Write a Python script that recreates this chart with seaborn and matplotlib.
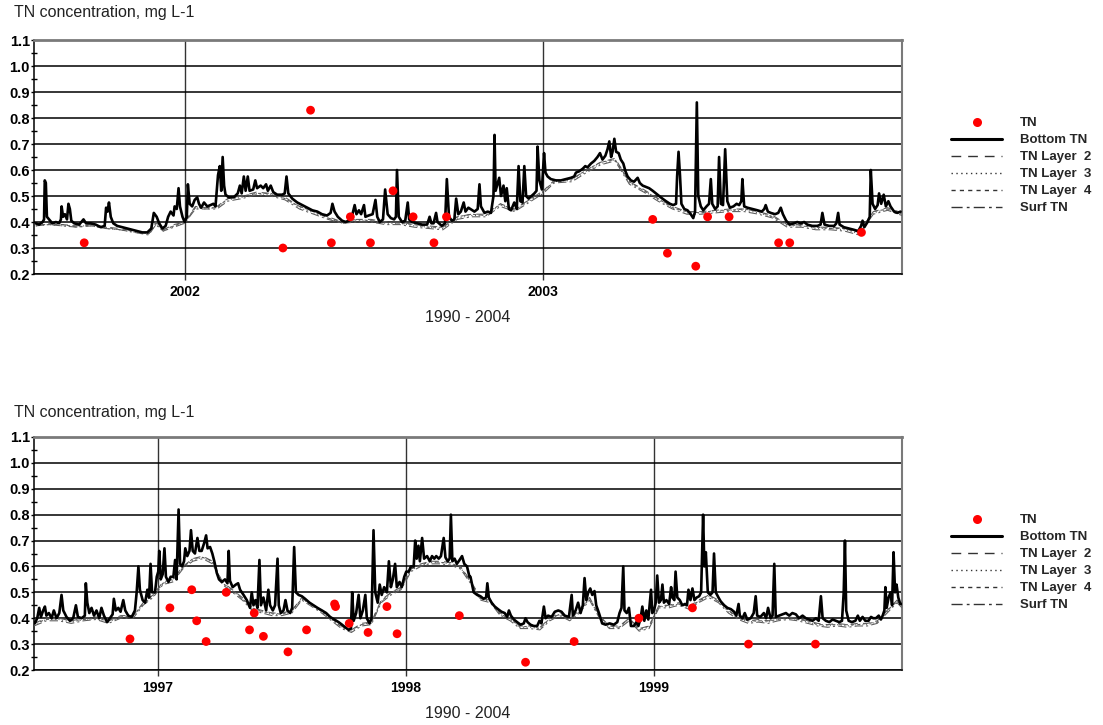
import numpy as np
import pandas as pd
import matplotlib
matplotlib.use("Agg")
import matplotlib.pyplot as plt
from matplotlib.lines import Line2D
from matplotlib.ticker import MultipleLocator, FormatStrFormatter
import seaborn as sns

# ------------------------------------------------------------------
# Panel A: Aug 2001 - Dec 2003 (decimal years, TN in mg/L)
# ------------------------------------------------------------------
a_obs_year = [2001.720, 2002.274, 2002.351, 2002.409, 2002.462, 2002.518, 2002.581, 2002.637, 2002.695,
              2002.730, 2003.305, 2003.346, 2003.425, 2003.458, 2003.518, 2003.656, 2003.687, 2003.887]
a_obs_tn = [0.32, 0.30, 0.83, 0.32, 0.42, 0.32, 0.52, 0.42, 0.32,
            0.42, 0.41, 0.28, 0.23, 0.42, 0.42, 0.32, 0.32, 0.36]

a_bottom_year = [
    2001.585, 2001.594, 2001.604, 2001.608, 2001.610, 2001.613, 2001.616, 2001.622, 2001.631, 2001.641,
    2001.650, 2001.655, 2001.657, 2001.661, 2001.666, 2001.672, 2001.676, 2001.680, 2001.684, 2001.692,
    2001.706, 2001.718, 2001.725, 2001.738, 2001.752, 2001.766, 2001.777, 2001.781, 2001.785, 2001.789,
    2001.794, 2001.801, 2001.812, 2001.826, 2001.840, 2001.854, 2001.868, 2001.882, 2001.896, 2001.907,
    2001.914, 2001.922, 2001.929, 2001.938, 2001.947, 2001.954, 2001.961, 2001.969, 2001.972, 2001.978,
    2001.983, 2001.987, 2001.994, 2002.000, 2002.006, 2002.009, 2002.014, 2002.021, 2002.028, 2002.035,
    2002.040, 2002.046, 2002.054, 2002.063, 2002.072, 2002.080, 2002.086, 2002.093, 2002.098, 2002.102,
    2002.106, 2002.110, 2002.114, 2002.123, 2002.137, 2002.148, 2002.154, 2002.159, 2002.165, 2002.170,
    2002.176, 2002.181, 2002.191, 2002.197, 2002.202, 2002.212, 2002.219, 2002.227, 2002.232, 2002.240,
    2002.247, 2002.258, 2002.272, 2002.279, 2002.284, 2002.289, 2002.300, 2002.314, 2002.328, 2002.342,
    2002.356, 2002.370, 2002.383, 2002.397, 2002.407, 2002.412, 2002.418, 2002.427, 2002.439, 2002.449,
    2002.458, 2002.467, 2002.474, 2002.479, 2002.486, 2002.492, 2002.500, 2002.504, 2002.513, 2002.524,
    2002.532, 2002.537, 2002.544, 2002.553, 2002.559, 2002.566, 2002.575, 2002.584, 2002.589, 2002.592,
    2002.597, 2002.606, 2002.615, 2002.622, 2002.626, 2002.634, 2002.648, 2002.662, 2002.676, 2002.683,
    2002.688, 2002.694, 2002.701, 2002.705, 2002.717, 2002.726, 2002.731, 2002.737, 2002.745, 2002.752,
    2002.757, 2002.763, 2002.770, 2002.778, 2002.783, 2002.791, 2002.808, 2002.817, 2002.822, 2002.826,
    2002.836, 2002.845, 2002.854, 2002.861, 2002.864, 2002.867, 2002.873, 2002.877, 2002.882, 2002.889,
    2002.894, 2002.898, 2002.904, 2002.910, 2002.919, 2002.926, 2002.931, 2002.936, 2002.942, 2002.947,
    2002.952, 2002.959, 2002.967, 2002.975, 2002.981, 2002.984, 2002.989, 2002.996, 2003.002, 2003.006,
    2003.012, 2003.021, 2003.035, 2003.049, 2003.063, 2003.077, 2003.086, 2003.091, 2003.100, 2003.110,
    2003.117, 2003.123, 2003.133, 2003.142, 2003.151, 2003.158, 2003.165, 2003.173, 2003.179, 2003.184,
    2003.189, 2003.193, 2003.198, 2003.203, 2003.210, 2003.216, 2003.223, 2003.229, 2003.235, 2003.244,
    2003.253, 2003.263, 2003.269, 2003.277, 2003.286, 2003.295, 2003.305, 2003.314, 2003.323, 2003.332,
    2003.342, 2003.353, 2003.362, 2003.370, 2003.373, 2003.377, 2003.381, 2003.385, 2003.393, 2003.402,
    2003.411, 2003.418, 2003.423, 2003.428, 2003.432, 2003.439, 2003.446, 2003.455, 2003.462, 2003.467,
    2003.471, 2003.479, 2003.486, 2003.490, 2003.495, 2003.501, 2003.507, 2003.513, 2003.520, 2003.530,
    2003.539, 2003.546, 2003.552, 2003.555, 2003.560, 2003.569, 2003.583, 2003.597, 2003.609, 2003.616,
    2003.620, 2003.626, 2003.634, 2003.646, 2003.655, 2003.662, 2003.668, 2003.677, 2003.687, 2003.699,
    2003.708, 2003.718, 2003.727, 2003.736, 2003.750, 2003.764, 2003.773, 2003.778, 2003.784, 2003.797,
    2003.811, 2003.817, 2003.822, 2003.826, 2003.838, 2003.852, 2003.866, 2003.878, 2003.886, 2003.890,
    2003.895, 2003.904, 2003.910, 2003.913, 2003.918, 2003.925, 2003.932, 2003.936, 2003.942, 2003.949,
    2003.955, 2003.962, 2003.968, 2003.978, 2003.987, 2003.996]
a_bottom_tn = [
    0.395, 0.39, 0.40, 0.41, 0.56, 0.55, 0.42, 0.41, 0.395, 0.40,
    0.395, 0.41, 0.46, 0.42, 0.43, 0.41, 0.47, 0.45, 0.405, 0.395,
    0.39, 0.41, 0.395, 0.395, 0.39, 0.38, 0.385, 0.455, 0.44, 0.475,
    0.42, 0.395, 0.385, 0.38, 0.375, 0.37, 0.365, 0.36, 0.36, 0.375,
    0.435, 0.42, 0.395, 0.375, 0.385, 0.42, 0.44, 0.425, 0.46, 0.45,
    0.53, 0.46, 0.42, 0.40, 0.42, 0.545, 0.47, 0.46, 0.485, 0.495,
    0.47, 0.455, 0.475, 0.46, 0.465, 0.47, 0.46, 0.58, 0.615, 0.52,
    0.65, 0.54, 0.505, 0.495, 0.495, 0.51, 0.54, 0.51, 0.575, 0.52,
    0.575, 0.52, 0.525, 0.56, 0.53, 0.54, 0.53, 0.545, 0.52, 0.54,
    0.515, 0.505, 0.505, 0.51, 0.575, 0.51, 0.49, 0.475, 0.465, 0.455,
    0.445, 0.44, 0.43, 0.425, 0.435, 0.47, 0.44, 0.42, 0.405, 0.40,
    0.405, 0.425, 0.465, 0.43, 0.445, 0.43, 0.465, 0.42, 0.425, 0.43,
    0.485, 0.42, 0.40, 0.41, 0.525, 0.43, 0.415, 0.41, 0.42, 0.60,
    0.42, 0.40, 0.405, 0.475, 0.41, 0.40, 0.395, 0.39, 0.39, 0.42,
    0.395, 0.395, 0.435, 0.40, 0.385, 0.395, 0.565, 0.42, 0.405, 0.41,
    0.49, 0.43, 0.44, 0.475, 0.44, 0.455, 0.44, 0.45, 0.545, 0.46,
    0.435, 0.44, 0.435, 0.50, 0.735, 0.52, 0.55, 0.57, 0.50, 0.54,
    0.48, 0.53, 0.45, 0.445, 0.475, 0.45, 0.615, 0.48, 0.475, 0.615,
    0.50, 0.49, 0.50, 0.51, 0.52, 0.69, 0.56, 0.525, 0.665, 0.59,
    0.575, 0.565, 0.56, 0.56, 0.565, 0.57, 0.575, 0.59, 0.595, 0.605,
    0.615, 0.61, 0.625, 0.635, 0.65, 0.665, 0.64, 0.655, 0.68, 0.71,
    0.65, 0.67, 0.72, 0.67, 0.665, 0.64, 0.625, 0.595, 0.575, 0.56,
    0.555, 0.57, 0.55, 0.54, 0.535, 0.53, 0.52, 0.51, 0.50, 0.49,
    0.48, 0.47, 0.465, 0.47, 0.575, 0.67, 0.58, 0.47, 0.45, 0.445,
    0.43, 0.415, 0.44, 0.86, 0.50, 0.46, 0.445, 0.46, 0.47, 0.565,
    0.47, 0.45, 0.46, 0.65, 0.47, 0.465, 0.68, 0.48, 0.455, 0.46,
    0.47, 0.465, 0.48, 0.565, 0.46, 0.455, 0.45, 0.445, 0.44, 0.45,
    0.465, 0.44, 0.435, 0.43, 0.435, 0.455, 0.43, 0.405, 0.39, 0.395,
    0.40, 0.395, 0.40, 0.39, 0.385, 0.385, 0.39, 0.435, 0.39, 0.385,
    0.385, 0.395, 0.435, 0.39, 0.38, 0.375, 0.37, 0.365, 0.385, 0.405,
    0.38, 0.40, 0.42, 0.60, 0.47, 0.45, 0.465, 0.51, 0.47, 0.505,
    0.46, 0.48, 0.46, 0.44, 0.435, 0.44]

a_layer_year = [
    2001.585, 2001.62, 2001.66, 2001.70, 2001.74, 2001.78, 2001.82, 2001.86, 2001.90, 2001.92, 2001.94, 2001.97,
    2002.00, 2002.03, 2002.06, 2002.09, 2002.12, 2002.16, 2002.20, 2002.24, 2002.28, 2002.32, 2002.36,
    2002.40, 2002.44, 2002.48, 2002.52, 2002.56, 2002.60, 2002.64, 2002.68, 2002.72, 2002.76, 2002.80,
    2002.84, 2002.88, 2002.92, 2002.96,
    2003.00, 2003.03, 2003.08, 2003.12, 2003.16, 2003.20, 2003.24, 2003.28, 2003.32, 2003.36, 2003.40,
    2003.44, 2003.48, 2003.52, 2003.56, 2003.60, 2003.64, 2003.68, 2003.72, 2003.76, 2003.80, 2003.84,
    2003.88, 2003.92, 2003.96, 2004.00]
a_layer2_tn = [
    0.39, 0.395, 0.39, 0.385, 0.39, 0.38, 0.375, 0.365, 0.355, 0.40, 0.37, 0.39,
    0.40, 0.46, 0.455, 0.46, 0.49, 0.50, 0.515, 0.51, 0.495, 0.46, 0.44,
    0.42, 0.40, 0.41, 0.41, 0.40, 0.40, 0.39, 0.385, 0.38, 0.42, 0.43,
    0.43, 0.47, 0.45, 0.485,
    0.52, 0.56, 0.565, 0.60, 0.63, 0.645, 0.555, 0.525, 0.49, 0.46, 0.44,
    0.44, 0.445, 0.45, 0.45, 0.44, 0.425, 0.39, 0.39, 0.38, 0.38, 0.375,
    0.36, 0.44, 0.455, 0.435]
a_layer3_tn = [
    0.385, 0.39, 0.385, 0.385, 0.385, 0.375, 0.37, 0.36, 0.355, 0.39, 0.365, 0.385,
    0.395, 0.455, 0.45, 0.455, 0.485, 0.495, 0.51, 0.505, 0.49, 0.455, 0.435,
    0.415, 0.395, 0.405, 0.405, 0.395, 0.395, 0.385, 0.38, 0.375, 0.415, 0.425,
    0.425, 0.465, 0.445, 0.48,
    0.515, 0.555, 0.56, 0.595, 0.625, 0.64, 0.55, 0.52, 0.485, 0.455, 0.435,
    0.435, 0.44, 0.445, 0.445, 0.435, 0.42, 0.385, 0.385, 0.375, 0.375, 0.37,
    0.355, 0.435, 0.45, 0.43]
a_layer4_tn = [
    0.39, 0.39, 0.39, 0.38, 0.39, 0.38, 0.37, 0.365, 0.355, 0.395, 0.37, 0.385,
    0.40, 0.455, 0.455, 0.455, 0.49, 0.50, 0.51, 0.51, 0.49, 0.46, 0.44,
    0.415, 0.40, 0.41, 0.405, 0.40, 0.395, 0.39, 0.38, 0.38, 0.42, 0.43,
    0.425, 0.47, 0.445, 0.485,
    0.52, 0.555, 0.565, 0.60, 0.63, 0.64, 0.555, 0.52, 0.49, 0.455, 0.44,
    0.435, 0.445, 0.445, 0.45, 0.44, 0.42, 0.39, 0.385, 0.38, 0.375, 0.375,
    0.36, 0.44, 0.45, 0.435]
a_surf_tn = [
    0.385, 0.39, 0.385, 0.38, 0.385, 0.375, 0.37, 0.36, 0.35, 0.39, 0.365, 0.38,
    0.395, 0.45, 0.45, 0.45, 0.48, 0.49, 0.505, 0.50, 0.485, 0.45, 0.43,
    0.41, 0.395, 0.40, 0.40, 0.39, 0.39, 0.38, 0.375, 0.37, 0.41, 0.42,
    0.42, 0.46, 0.44, 0.475,
    0.51, 0.55, 0.555, 0.59, 0.62, 0.635, 0.545, 0.515, 0.48, 0.45, 0.43,
    0.43, 0.435, 0.44, 0.44, 0.43, 0.415, 0.38, 0.38, 0.37, 0.37, 0.365,
    0.35, 0.43, 0.445, 0.425]

# ------------------------------------------------------------------
# Panel B: Jul 1996 - Dec 1999
# ------------------------------------------------------------------
b_obs_year = [1996.887, 1997.048, 1997.136, 1997.156, 1997.194, 1997.275, 1997.369, 1997.388,
              1997.425, 1997.524, 1997.599, 1997.712, 1997.716, 1997.771, 1997.847, 1997.923,
              1997.964, 1998.215, 1998.482, 1998.678, 1998.939, 1999.155, 1999.381, 1999.651]
b_obs_tn = [0.32, 0.44, 0.51, 0.39, 0.31, 0.50, 0.355, 0.42,
            0.33, 0.27, 0.355, 0.455, 0.445, 0.38, 0.345, 0.445,
            0.34, 0.41, 0.23, 0.31, 0.40, 0.44, 0.30, 0.30]

b_bottom_year = [
    1996.500, 1996.503, 1996.513, 1996.521, 1996.528, 1996.537, 1996.544, 1996.550, 1996.560, 1996.571,
    1996.580, 1996.591, 1996.602, 1996.611, 1996.618, 1996.631, 1996.645, 1996.658, 1996.669, 1996.677,
    1996.692, 1996.705, 1996.709, 1996.715, 1996.723, 1996.732, 1996.742, 1996.752, 1996.763, 1996.772,
    1996.782, 1996.795, 1996.806, 1996.817, 1996.822, 1996.830, 1996.840, 1996.849, 1996.860, 1996.868,
    1996.880, 1996.894, 1996.907, 1996.914, 1996.921, 1996.927, 1996.938, 1996.948, 1996.957, 1996.964,
    1996.970, 1996.976, 1996.988, 1996.995, 1997.001, 1997.005, 1997.011, 1997.019, 1997.026, 1997.032,
    1997.042, 1997.051, 1997.062, 1997.069, 1997.075, 1997.083, 1997.089, 1997.097, 1997.105, 1997.110,
    1997.118, 1997.127, 1997.133, 1997.140, 1997.149, 1997.159, 1997.167, 1997.176, 1997.186, 1997.194,
    1997.200, 1997.210, 1997.219, 1997.227, 1997.237, 1997.246, 1997.257, 1997.270, 1997.280, 1997.285,
    1997.290, 1997.301, 1997.314, 1997.323, 1997.331, 1997.345, 1997.358, 1997.371, 1997.378, 1997.385,
    1997.393, 1997.401, 1997.409, 1997.415, 1997.425, 1997.436, 1997.445, 1997.452, 1997.463, 1997.472,
    1997.482, 1997.487, 1997.495, 1997.506, 1997.514, 1997.522, 1997.533, 1997.541, 1997.549, 1997.556,
    1997.567, 1997.580, 1997.593, 1997.611, 1997.627, 1997.643, 1997.661, 1997.678, 1997.694, 1997.711,
    1997.728, 1997.742, 1997.755, 1997.769, 1997.778, 1997.783, 1997.789, 1997.799, 1997.809, 1997.816,
    1997.826, 1997.836, 1997.842, 1997.853, 1997.861, 1997.869, 1997.876, 1997.886, 1997.894, 1997.902,
    1997.912, 1997.923, 1997.931, 1997.939, 1997.947, 1997.956, 1997.963, 1997.974, 1997.983, 1997.993,
    1998.001, 1998.011, 1998.020, 1998.031, 1998.037, 1998.043, 1998.050, 1998.056, 1998.065, 1998.073,
    1998.085, 1998.096, 1998.105, 1998.114, 1998.122, 1998.132, 1998.141, 1998.152, 1998.159, 1998.168,
    1998.176, 1998.181, 1998.187, 1998.196, 1998.205, 1998.216, 1998.226, 1998.235, 1998.246, 1998.256,
    1998.260, 1998.273, 1998.287, 1998.300, 1998.313, 1998.323, 1998.328, 1998.334, 1998.345, 1998.358,
    1998.371, 1998.385, 1998.398, 1998.408, 1998.415, 1998.423, 1998.435, 1998.448, 1998.462, 1998.475,
    1998.482, 1998.490, 1998.502, 1998.515, 1998.529, 1998.538, 1998.546, 1998.556, 1998.563, 1998.573,
    1998.587, 1998.600, 1998.614, 1998.627, 1998.640, 1998.657, 1998.668, 1998.673, 1998.684, 1998.694,
    1998.704, 1998.713, 1998.720, 1998.727, 1998.735, 1998.743, 1998.751, 1998.760, 1998.767, 1998.778,
    1998.791, 1998.805, 1998.821, 1998.838, 1998.852, 1998.861, 1998.869, 1998.876, 1998.881, 1998.890,
    1998.899, 1998.907, 1998.919, 1998.929, 1998.937, 1998.946, 1998.953, 1998.961, 1998.969, 1998.977,
    1998.983, 1998.988, 1998.993, 1999.000, 1999.007, 1999.013, 1999.020, 1999.028, 1999.034, 1999.040,
    1999.050, 1999.061, 1999.069, 1999.074, 1999.082, 1999.087, 1999.094, 1999.104, 1999.114, 1999.125,
    1999.133, 1999.139, 1999.147, 1999.155, 1999.163, 1999.172, 1999.182, 1999.190, 1999.198, 1999.203,
    1999.209, 1999.217, 1999.227, 1999.236, 1999.242, 1999.249, 1999.260, 1999.269, 1999.283, 1999.296,
    1999.310, 1999.323, 1999.332, 1999.341, 1999.346, 1999.357, 1999.366, 1999.376, 1999.390, 1999.402,
    1999.410, 1999.416, 1999.429, 1999.443, 1999.452, 1999.460, 1999.470, 1999.478, 1999.485, 1999.491,
    1999.504, 1999.518, 1999.532, 1999.545, 1999.558, 1999.572, 1999.585, 1999.599, 1999.612, 1999.626,
    1999.639, 1999.653, 1999.664, 1999.673, 1999.680, 1999.693, 1999.707, 1999.720, 1999.734, 1999.747,
    1999.758, 1999.765, 1999.770, 1999.775, 1999.785, 1999.798, 1999.812, 1999.822, 1999.830, 1999.841,
    1999.852, 1999.865, 1999.875, 1999.884, 1999.895, 1999.906, 1999.915, 1999.922, 1999.929, 1999.933,
    1999.938, 1999.946, 1999.954, 1999.960, 1999.966, 1999.972, 1999.978, 1999.985, 1999.993, 2000.000]
b_bottom_tn = [
    0.385, 0.38, 0.40, 0.44, 0.405, 0.43, 0.445, 0.41, 0.42, 0.40,
    0.43, 0.40, 0.42, 0.49, 0.43, 0.405, 0.39, 0.40, 0.45, 0.405,
    0.40, 0.41, 0.535, 0.46, 0.42, 0.44, 0.41, 0.43, 0.40, 0.44,
    0.41, 0.385, 0.40, 0.415, 0.475, 0.43, 0.44, 0.425, 0.47, 0.43,
    0.41, 0.405, 0.43, 0.50, 0.60, 0.51, 0.47, 0.46, 0.51, 0.48,
    0.61, 0.50, 0.50, 0.56, 0.58, 0.66, 0.55, 0.57, 0.67, 0.56,
    0.54, 0.56, 0.56, 0.625, 0.55, 0.82, 0.61, 0.60, 0.62, 0.67,
    0.64, 0.66, 0.74, 0.66, 0.65, 0.71, 0.66, 0.66, 0.69, 0.72,
    0.67, 0.675, 0.65, 0.62, 0.575, 0.55, 0.54, 0.55, 0.535, 0.66,
    0.545, 0.52, 0.53, 0.535, 0.51, 0.49, 0.47, 0.44, 0.50, 0.45,
    0.47, 0.44, 0.625, 0.45, 0.48, 0.43, 0.51, 0.45, 0.43, 0.45,
    0.63, 0.45, 0.42, 0.43, 0.47, 0.43, 0.42, 0.44, 0.675, 0.50,
    0.49, 0.485, 0.475, 0.46, 0.45, 0.44, 0.43, 0.42, 0.405, 0.395,
    0.385, 0.375, 0.365, 0.355, 0.36, 0.50, 0.39, 0.42, 0.49, 0.40,
    0.43, 0.49, 0.40, 0.38, 0.40, 0.74, 0.50, 0.46, 0.53, 0.49,
    0.52, 0.50, 0.62, 0.52, 0.55, 0.61, 0.52, 0.54, 0.52, 0.56,
    0.58, 0.58, 0.60, 0.60, 0.70, 0.63, 0.68, 0.62, 0.71, 0.63,
    0.64, 0.62, 0.64, 0.63, 0.64, 0.63, 0.64, 0.71, 0.635, 0.62,
    0.63, 0.80, 0.62, 0.63, 0.61, 0.625, 0.64, 0.61, 0.60, 0.56,
    0.56, 0.50, 0.49, 0.485, 0.475, 0.48, 0.535, 0.48, 0.46, 0.445,
    0.435, 0.425, 0.42, 0.405, 0.43, 0.41, 0.395, 0.385, 0.375, 0.38,
    0.40, 0.385, 0.375, 0.37, 0.37, 0.39, 0.38, 0.445, 0.40, 0.41,
    0.405, 0.425, 0.43, 0.425, 0.41, 0.405, 0.49, 0.41, 0.43, 0.46,
    0.42, 0.45, 0.555, 0.47, 0.50, 0.515, 0.49, 0.505, 0.45, 0.42,
    0.38, 0.375, 0.38, 0.375, 0.385, 0.42, 0.44, 0.60, 0.43, 0.42,
    0.44, 0.37, 0.37, 0.385, 0.37, 0.40, 0.445, 0.39, 0.43, 0.395,
    0.46, 0.51, 0.42, 0.43, 0.46, 0.565, 0.46, 0.47, 0.53, 0.46,
    0.47, 0.455, 0.52, 0.48, 0.47, 0.58, 0.48, 0.47, 0.45, 0.455,
    0.45, 0.51, 0.47, 0.515, 0.47, 0.48, 0.485, 0.50, 0.80, 0.60,
    0.655, 0.50, 0.49, 0.50, 0.65, 0.50, 0.48, 0.465, 0.45, 0.44,
    0.435, 0.425, 0.41, 0.455, 0.41, 0.40, 0.42, 0.395, 0.40, 0.42,
    0.485, 0.41, 0.405, 0.42, 0.40, 0.44, 0.40, 0.41, 0.61, 0.405,
    0.41, 0.415, 0.42, 0.41, 0.42, 0.415, 0.40, 0.41, 0.40, 0.395,
    0.39, 0.40, 0.39, 0.485, 0.40, 0.39, 0.385, 0.395, 0.39, 0.385,
    0.39, 0.50, 0.70, 0.43, 0.39, 0.385, 0.39, 0.41, 0.39, 0.405,
    0.39, 0.39, 0.405, 0.40, 0.40, 0.41, 0.395, 0.41, 0.43, 0.52,
    0.44, 0.48, 0.50, 0.45, 0.655, 0.50, 0.53, 0.48, 0.455, 0.455]

b_layer_year = [
    1996.50, 1996.55, 1996.60, 1996.65, 1996.70, 1996.75, 1996.80, 1996.85, 1996.90, 1996.94, 1996.98,
    1997.02, 1997.06, 1997.10, 1997.14, 1997.18, 1997.22, 1997.26, 1997.30, 1997.34, 1997.38, 1997.42,
    1997.46, 1997.50, 1997.54, 1997.58, 1997.62, 1997.66, 1997.70, 1997.74, 1997.78, 1997.82, 1997.86,
    1997.90, 1997.94, 1997.98,
    1998.02, 1998.06, 1998.10, 1998.14, 1998.18, 1998.22, 1998.26, 1998.30, 1998.34, 1998.38, 1998.42,
    1998.46, 1998.50, 1998.54, 1998.58, 1998.62, 1998.66, 1998.70, 1998.74, 1998.78, 1998.82, 1998.86,
    1998.90, 1998.94, 1998.98,
    1999.02, 1999.06, 1999.10, 1999.14, 1999.18, 1999.22, 1999.26, 1999.30, 1999.34, 1999.38, 1999.42,
    1999.46, 1999.50, 1999.54, 1999.58, 1999.62, 1999.66, 1999.70, 1999.74, 1999.78, 1999.82, 1999.86,
    1999.90, 1999.94, 1999.98, 2000.00]
b_layer2_tn = [
    0.38, 0.40, 0.40, 0.39, 0.40, 0.405, 0.39, 0.41, 0.41, 0.46, 0.49,
    0.54, 0.55, 0.60, 0.63, 0.64, 0.62, 0.54, 0.51, 0.48, 0.44, 0.43,
    0.42, 0.42, 0.43, 0.48, 0.455, 0.43, 0.40, 0.37, 0.355, 0.38, 0.385,
    0.47, 0.50, 0.52,
    0.59, 0.61, 0.62, 0.62, 0.615, 0.60, 0.545, 0.48, 0.47, 0.42, 0.40,
    0.37, 0.37, 0.365, 0.40, 0.42, 0.40, 0.43, 0.48, 0.41, 0.37, 0.37,
    0.40, 0.36, 0.37,
    0.45, 0.45, 0.46, 0.445, 0.47, 0.49, 0.47, 0.43, 0.405, 0.39, 0.395,
    0.39, 0.40, 0.405, 0.40, 0.39, 0.38, 0.375, 0.38, 0.375, 0.38, 0.38,
    0.39, 0.43, 0.47, 0.45]
b_layer3_tn = [
    0.375, 0.395, 0.395, 0.385, 0.395, 0.40, 0.385, 0.405, 0.405, 0.455, 0.485,
    0.535, 0.545, 0.595, 0.625, 0.635, 0.615, 0.535, 0.505, 0.475, 0.435, 0.425,
    0.415, 0.415, 0.425, 0.475, 0.45, 0.425, 0.395, 0.365, 0.35, 0.375, 0.38,
    0.465, 0.495, 0.515,
    0.585, 0.605, 0.615, 0.615, 0.61, 0.595, 0.54, 0.475, 0.465, 0.415, 0.395,
    0.365, 0.365, 0.36, 0.395, 0.415, 0.395, 0.425, 0.475, 0.405, 0.365, 0.365,
    0.395, 0.355, 0.365,
    0.445, 0.445, 0.455, 0.44, 0.465, 0.485, 0.465, 0.425, 0.40, 0.385, 0.39,
    0.385, 0.395, 0.40, 0.395, 0.385, 0.375, 0.37, 0.375, 0.37, 0.375, 0.375,
    0.385, 0.425, 0.465, 0.445]
b_layer4_tn = [
    0.38, 0.395, 0.40, 0.39, 0.395, 0.40, 0.39, 0.405, 0.41, 0.455, 0.49,
    0.535, 0.55, 0.595, 0.63, 0.635, 0.62, 0.535, 0.51, 0.475, 0.44, 0.425,
    0.42, 0.415, 0.43, 0.475, 0.455, 0.425, 0.40, 0.365, 0.355, 0.375, 0.385,
    0.465, 0.50, 0.515,
    0.59, 0.605, 0.62, 0.615, 0.615, 0.595, 0.545, 0.475, 0.47, 0.415, 0.40,
    0.365, 0.37, 0.36, 0.40, 0.415, 0.40, 0.425, 0.48, 0.405, 0.37, 0.365,
    0.40, 0.355, 0.37,
    0.445, 0.45, 0.455, 0.445, 0.465, 0.49, 0.465, 0.43, 0.40, 0.39, 0.39,
    0.39, 0.395, 0.405, 0.395, 0.39, 0.375, 0.375, 0.375, 0.375, 0.375, 0.38,
    0.385, 0.43, 0.465, 0.45]
b_surf_tn = [
    0.37, 0.39, 0.39, 0.38, 0.39, 0.395, 0.38, 0.40, 0.40, 0.45, 0.48,
    0.53, 0.54, 0.59, 0.62, 0.63, 0.61, 0.53, 0.50, 0.47, 0.43, 0.42,
    0.41, 0.41, 0.42, 0.47, 0.445, 0.42, 0.39, 0.36, 0.345, 0.37, 0.375,
    0.46, 0.49, 0.51,
    0.58, 0.60, 0.61, 0.61, 0.605, 0.59, 0.535, 0.47, 0.46, 0.41, 0.39,
    0.36, 0.36, 0.355, 0.39, 0.41, 0.39, 0.42, 0.47, 0.40, 0.36, 0.36,
    0.39, 0.35, 0.36,
    0.44, 0.44, 0.45, 0.435, 0.46, 0.48, 0.46, 0.42, 0.395, 0.38, 0.385,
    0.38, 0.39, 0.395, 0.39, 0.38, 0.37, 0.365, 0.37, 0.365, 0.37, 0.37,
    0.38, 0.42, 0.46, 0.44]

y_ticks = [0.2, 0.3, 0.4, 0.5, 0.6, 0.7, 0.8, 0.9, 1.0, 1.1]
a_years = [2002, 2003]
b_years = [1997, 1998, 1999]
a_xlim = (2001.58, 2004.0)
b_xlim = (1996.5, 2000.0)

y_title = "TN concentration, mg L-1"
x_title = "1990 - 2004"
legend_labels = ["TN", "Bottom TN", "TN Layer  2", "TN Layer  3", "TN Layer  4", "Surf TN"]

# ------------------------------------------------------------------
sns.set_theme(style="white")
plt.rcParams["font.family"] = ["Liberation Sans", "DejaVu Sans"]

W, H = 1103, 725
fig = plt.figure(figsize=(W / 100, H / 100), dpi=100)

layer_styles = [
    ("TN Layer  2", (0, (7, 5)), "#5a5a5a"),
    ("TN Layer  3", (0, (1, 2.5)), "#5a5a5a"),
    ("TN Layer  4", (0, (3, 3)), "#5a5a5a"),
    ("Surf TN", (0, (8, 3, 2, 3)), "#5a5a5a"),
]


def draw_panel(ax, obs_x, obs_y, bot_x, bot_y, lay_x, layers, xlim, years):
    for (label, ls, col), vals in zip(layer_styles, layers):
        d = pd.DataFrame({"year": lay_x, "tn": vals})
        sns.lineplot(data=d, x="year", y="tn", ax=ax, color=col, linewidth=0.75,
                     linestyle=ls, estimator=None, sort=False, errorbar=None, zorder=3)
    d = pd.DataFrame({"year": bot_x, "tn": bot_y})
    sns.lineplot(data=d, x="year", y="tn", ax=ax, color="black", linewidth=1.9,
                 estimator=None, sort=False, errorbar=None, zorder=4)
    d = pd.DataFrame({"year": obs_x, "tn": obs_y})
    sns.scatterplot(data=d, x="year", y="tn", ax=ax, color="#ff0000", s=40,
                    edgecolor="none", zorder=5)

    ax.set_xlim(*xlim)
    ax.set_ylim(0.2, 1.1)
    ax.set_yticks(y_ticks)
    ax.yaxis.set_major_formatter(FormatStrFormatter("%.1f"))
    ax.yaxis.set_minor_locator(MultipleLocator(0.05))
    ax.set_xticks(years)
    ax.set_xticklabels([str(y) for y in years])
    ax.set_xlabel("")
    ax.set_ylabel("")

    ax.yaxis.grid(True, which="major", color="black", linewidth=1.1)
    ax.xaxis.grid(True, which="major", color="#333333", linewidth=1.0)
    ax.set_axisbelow(True)

    ax.tick_params(axis="y", which="major", length=2, width=1, color="black", pad=1.0,
                   labelsize=10.5, left=True)
    ax.tick_params(axis="y", which="minor", direction="inout", length=4, width=1,
                   color="black", left=True)
    ax.tick_params(axis="x", which="major", length=4, width=1, color="#333333", pad=4,
                   labelsize=10, bottom=True)
    for lbl in ax.get_yticklabels() + ax.get_xticklabels():
        lbl.set_fontweight("bold")
        lbl.set_color("black")

    for side in ("left", "bottom"):
        ax.spines[side].set_color("black")
        ax.spines[side].set_linewidth(1.1)
    ax.spines["top"].set_color("#7a7a7a")
    ax.spines["top"].set_linewidth(2.0)
    ax.spines["right"].set_color("#7a7a7a")
    ax.spines["right"].set_linewidth(1.5)
    for s in ax.spines.values():
        s.set_visible(True)


def legend_handles():
    h = [Line2D([], [], linestyle="none", marker="o", markersize=6.5,
                markerfacecolor="#ff0000", markeredgecolor="none"),
         Line2D([], [], color="black", linewidth=2.2)]
    for _, ls, _c in layer_styles:
        h.append(Line2D([], [], color="#333333", linewidth=1.0, linestyle=ls))
    return h


panels = [
    (40, 274, 12, 318, a_obs_year, a_obs_tn, a_bottom_year, a_bottom_tn, a_layer_year,
     [a_layer2_tn, a_layer3_tn, a_layer4_tn, a_surf_tn], a_xlim, a_years),
    (437, 670, 412, 713, b_obs_year, b_obs_tn, b_bottom_year, b_bottom_tn, b_layer_year,
     [b_layer2_tn, b_layer3_tn, b_layer4_tn, b_surf_tn], b_xlim, b_years),
]

for top_px, bot_px, title_px, xlab_px, ox, oy, bx, by, lx, lays, xl, yrs in panels:
    ax = fig.add_axes([34 / W, 1 - bot_px / H, 868 / W, (bot_px - top_px) / H])
    draw_panel(ax, ox, oy, bx, by, lx, lays, xl, yrs)
    fig.text(14 / W, 1 - title_px / H, y_title, ha="left", va="center",
             fontsize=11.5, color="#222222")
    fig.text(468 / W, 1 - xlab_px / H, x_title, ha="center", va="center",
             fontsize=11.5, color="#222222")
    fig.legend(legend_handles(), legend_labels, loc="upper left",
               bbox_to_anchor=(951 / W, 1 - (top_px + 77) / H),
               frameon=False, borderpad=0, borderaxespad=0,
               handlelength=3.9, handletextpad=1.3, labelspacing=0.36,
               prop={"weight": "bold", "size": 9.5})

fig.savefig("out.png", dpi=100)
